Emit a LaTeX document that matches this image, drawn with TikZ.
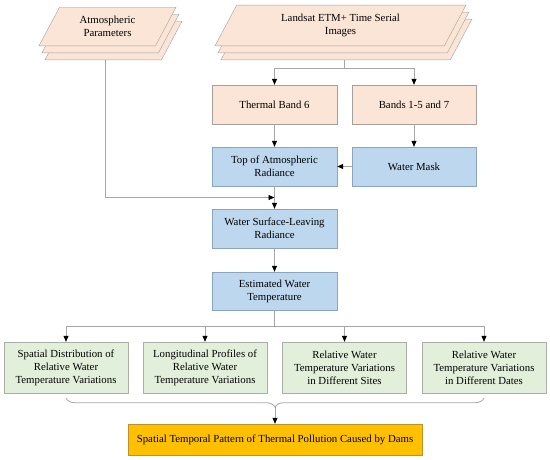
\documentclass[tikz,border=0pt]{standalone}
\usepackage{fontspec}
\setmainfont{Liberation Serif}
\usetikzlibrary{shapes.geometric, arrows.meta, shadows, calc, decorations.pathreplacing}

\definecolor{inpeach}{RGB}{251,229,214}
\definecolor{peachline}{RGB}{165,160,155}
\definecolor{stepblue}{RGB}{189,215,238}
\definecolor{blueline}{RGB}{140,165,190}
\definecolor{outgreen}{RGB}{226,239,218}
\definecolor{greenline}{RGB}{170,175,165}
\definecolor{goldfill}{RGB}{255,192,0}
\definecolor{goldline}{RGB}{190,145,40}
\definecolor{linkgray}{RGB}{166,166,166}

\begin{document}
\begin{tikzpicture}[
    x=1pt, y=-1pt,
    font=\fontsize{10.8}{13}\selectfont,
    every node/.style={align=center, inner sep=2pt},
    stackbox/.style={trapezium, trapezium left angle=62, trapezium right angle=118,
        trapezium stretches body, inner ysep=9pt, fill=inpeach, draw=peachline,
        copy shadow={shadow xshift=6pt, shadow yshift=-14pt, fill=inpeach, draw=peachline},
        copy shadow={shadow xshift=3pt, shadow yshift=-7pt, fill=inpeach, draw=peachline}},
    peachbox/.style={rectangle, fill=inpeach, draw=peachline, minimum width=125pt, minimum height=39pt},
    bluebox/.style={rectangle, fill=stepblue, draw=blueline, minimum width=125pt, minimum height=39pt},
    greenbox/.style={rectangle, fill=outgreen, draw=greenline, minimum width=124pt, minimum height=51pt},
    goldbox/.style={rectangle, fill=goldfill, draw=goldline, minimum width=294pt, minimum height=31pt},
    line/.style={draw=linkgray, line width=0.8pt},
    arr/.style={line, -{Triangle[black, length=6pt, width=5pt]}}
]
\useasboundingbox (0,0) rectangle (550,459);

% Column positions
\def\colA{274.5}  % main chain
\def\colB{414}    % mask branch

% Inputs
\node[stackbox, minimum width=137pt] (atm) at (107.5,26.5) {Atmospheric\\Parameters};
\node[stackbox, minimum width=251pt] (ls) at (340.5,25.5) {Landsat ETM+ Time Serial\\Images};

% Band split
\node[peachbox] (tb6) at (\colA,104.5) {Thermal Band 6};
\node[peachbox, minimum width=124pt] (b157) at (\colB,104.5) {Bands 1-5 and 7};

% Processing chain
\node[bluebox] (toa) at (\colA,166.5) {Top of Atmospheric\\Radiance};
\node[bluebox, minimum width=124pt] (wm) at (\colB,166.5) {Water Mask};
\node[bluebox] (wsl) at (\colA,228.5) {Water Surface-Leaving\\Radiance};
\node[bluebox, minimum height=38pt] (ewt) at (\colA,291) {Estimated Water\\Temperature};

% Outputs
\node[greenbox] (r1) at (66,367.5) {Spatial Distribution of\\Relative Water\\Temperature Variations};
\node[greenbox] (r2) at (205,367.5) {Longitudinal Profiles of\\Relative Water\\Temperature Variations};
\node[greenbox] (r3) at (344.5,367.5) {Relative Water\\Temperature Variations\\in Different Sites};
\node[greenbox] (r4) at (484,367.5) {Relative Water\\Temperature Variations\\in Different Dates};

% Result
\node[goldbox] (fin) at (275,439.5) {Spatial Temporal Pattern of Thermal Pollution Caused by Dams};

% Helper coordinates
\coordinate (lsbot) at ($(ls.south)+(3.5,14)$);
\coordinate (lsfork) at ($(lsbot)+(0,8)$);
\coordinate (atmbot) at ($(atm.south)+(-2.5,14)$);
\coordinate (mid) at ($(toa.south)!0.5!(wsl.north)$);
\coordinate (ewtfork) at ($(ewt.south)+(0,16)$);
\coordinate (brl) at ($(r1.south)+(0,5)$);
\coordinate (brr) at ($(r4.south)+(0,5)$);
\coordinate (brtip) at ($(brl)!0.5!(brr)+(0,9)$);

% Connectors
\draw[line] (lsbot) -- (lsfork);
\draw[arr] (lsfork) -| (tb6.north);
\draw[arr] (lsfork) -| (b157.north);
\draw[arr] (tb6) -- (toa);
\draw[arr] (b157) -- (wm);
\draw[arr] (wm) -- (toa);
\draw[arr] (toa) -- (wsl);
\draw[arr] (atmbot) |- (mid);
\draw[arr] (wsl) -- (ewt);
\draw[line] (ewt.south) -- (ewtfork);
\foreach \r in {r1,r2,r3,r4}
    \draw[arr] (ewtfork) -| (\r.north);
\draw[line, decorate, decoration={brace, mirror, amplitude=9pt}] (brl) -- (brr);
\draw[arr] (brtip) -- (fin.north);

\end{tikzpicture}
\end{document}
